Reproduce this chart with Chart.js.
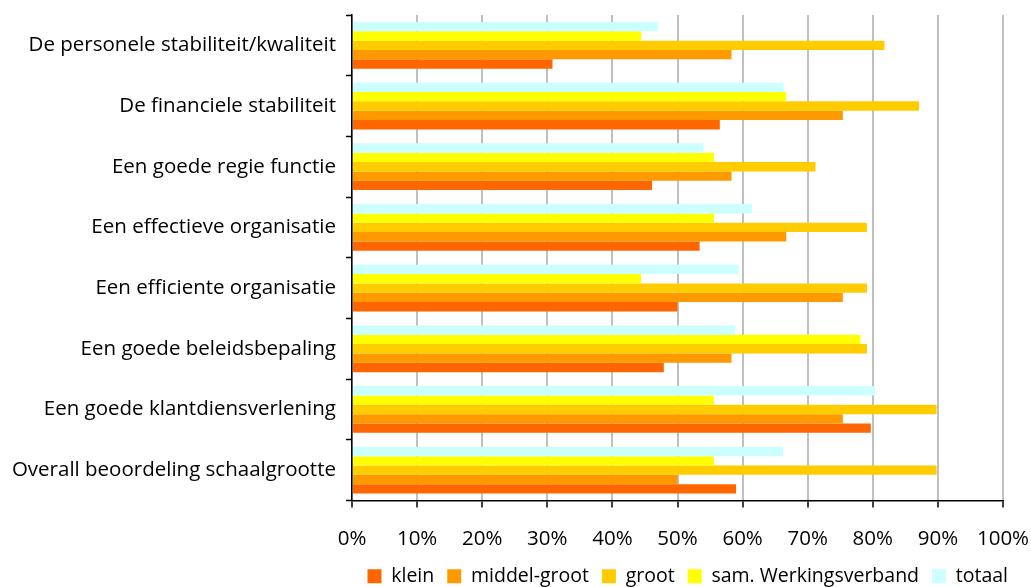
<!DOCTYPE html>
<html>
<head>
<meta charset="utf-8">
<script src="https://cdn.jsdelivr.net/npm/chart.js@4/dist/chart.umd.min.js"></script>
<style>
  html, body { margin: 0; padding: 0; background: #ffffff; overflow: hidden; }
  #wrap { width: 1031px; height: 587px; }
</style>
</head>
<body>
<div id="wrap"><canvas id="c" width="1031" height="587"></canvas></div>
<script>
const categories = [
  'De personele stabiliteit/kwaliteit',
  'De financiele stabiliteit',
  'Een goede regie functie',
  'Een effectieve organisatie',
  'Een efficiente organisatie',
  'Een goede beleidsbepaling',
  'Een goede klantdiensverlening',
  'Overall beoordeling schaalgrootte'
];
const klein   = [30.8, 56.5, 46.1, 53.4, 50.0, 47.9, 79.7, 59.0];
const middel  = [58.3, 75.4, 58.3, 66.7, 75.4, 58.3, 75.4, 50.0];
const groot   = [81.8, 87.1, 71.2, 79.1, 79.1, 79.1, 89.8, 89.8];
const sam     = [44.4, 66.7, 55.6, 55.6, 44.4, 78.1, 55.6, 55.6];
const totaal  = [47.0, 66.3, 54.0, 61.4, 59.4, 58.8, 80.3, 66.2];
const seriesNames = ['klein', 'middel-groot', 'groot', 'sam. Werkingsverband', 'totaal'];
const xTickLabels = ['0%','10%','20%','30%','40%','50%','60%','70%','80%','90%','100%'];

const FONT = '"Open Sans", Lato, sans-serif';
const FS = 20.5;
const LEGEND_FS = 19.5;
const LEGEND_RIGHT = 1008;

function ds(label, data, color) {
  return { label, data, backgroundColor: color, borderWidth: 0,
           categoryPercentage: 0.77, barPercentage: 1.0 };
}

const legendShift = {
  id: 'legendShift',
  afterUpdate(chart) {
    const lg = chart.legend;
    if (!lg || !lg.legendHitBoxes || !lg.legendHitBoxes.length) return;
    let maxR = -Infinity;
    lg.legendHitBoxes.forEach(h => { maxR = Math.max(maxR, h.left + h.width); });
    const dx = LEGEND_RIGHT - maxR;
    lg.left += dx; lg.right += dx;
    lg.adjustHitBoxes();
  }
};

new Chart(document.getElementById('c'), {
  type: 'bar',
  data: {
    labels: categories,
    datasets: [
      ds(seriesNames[4], totaal, '#CCFFFF'),
      ds(seriesNames[3], sam, '#FFFF00'),
      ds(seriesNames[2], groot, '#FFCC00'),
      ds(seriesNames[1], middel, '#FF9900'),
      ds(seriesNames[0], klein, '#FF6600')
    ]
  },
  plugins: [legendShift],
  options: {
    indexAxis: 'y',
    responsive: false,
    animation: false,
    devicePixelRatio: 1,
    layout: { padding: { top: 15, right: 0, left: 0, bottom: -9 } },
    plugins: {
      legend: {
        position: 'bottom',
        align: 'end',
        reverse: true,
        labels: {
          boxWidth: 14, boxHeight: 14, padding: 13,
          color: '#000', font: { family: FONT, size: LEGEND_FS }
        }
      },
      tooltip: { enabled: false }
    },
    scales: {
      x: {
        min: 0, max: 100,
        ticks: {
          stepSize: 10,
          color: '#000',
          padding: 19,
          maxRotation: 0,
          font: { family: FONT, size: FS },
          callback: (v) => xTickLabels[Math.round(v / 10)]
        },
        grid: { color: '#C0C0C0', lineWidth: 2, tickColor: '#000', tickLength: 7, tickWidth: 1.5 },
        border: { color: '#000', width: 1.5 },
        afterFit: (s) => { s.height = 53; s.paddingRight = 28; s.paddingLeft = 0; }
      },
      y: {
        ticks: {
          color: '#000', padding: 10,
          font: { family: FONT, size: FS }
        },
        grid: { drawOnChartArea: false, offset: true, tickColor: '#000', tickLength: 6, tickWidth: 1.5 },
        border: { color: '#000', width: 1.5 },
        afterFit: (s) => { s.width = 352; s.paddingTop = 0; s.paddingBottom = 0; }
      }
    }
  }
});
</script>
</body>
</html>
